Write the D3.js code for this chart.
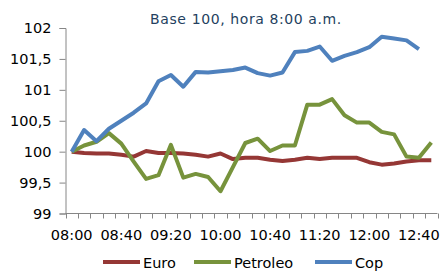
<!DOCTYPE html>
<html>
<head>
<meta charset="utf-8">
<script src="https://cdn.jsdelivr.net/npm/d3@7"></script>
<style>
  body { margin: 0; background: #fff; }
  text { font-family: "DejaVu Sans", sans-serif; }
</style>
</head>
<body>
<script>
// categories, every 10 minutes
var times = ["08:00","08:10","08:20","08:30","08:40","08:50","09:00","09:10","09:20","09:30",
             "09:40","09:50","10:00","10:10","10:20","10:30","10:40","10:50","11:00","11:10",
             "11:20","11:30","11:40","11:50","12:00","12:10","12:20","12:30","12:40","12:50"];
var tickLabels = ["08:00","08:40","09:20","10:00","10:40","11:20","12:00","12:40"];
var yTicks = [99, 99.5, 100, 100.5, 101, 101.5, 102];

var euro = [100, 99.98, 99.97, 99.97, 99.95, 99.92, 100.01, 99.98, 99.98, 99.97,
            99.95, 99.92, 99.97, 99.88, 99.90, 99.90, 99.87, 99.85, 99.87, 99.90,
            99.88, 99.90, 99.90, 99.90, 99.83, 99.79, 99.81, 99.84, 99.86, 99.86];
var petroleo = [100, 100.10, 100.16, 100.30, 100.13, 99.84, 99.56, 99.62, 100.11, 99.58,
                99.64, 99.59, 99.36, 99.75, 100.14, 100.21, 100.01, 100.10, 100.10, 100.76,
                100.76, 100.85, 100.59, 100.47, 100.47, 100.32, 100.28, 99.92, 99.90, 100.15];
var cop = [100, 100.35, 100.17, 100.37, 100.5, 100.63, 100.78, 101.14, 101.24, 101.05,
           101.29, 101.28, 101.30, 101.32, 101.36, 101.27, 101.23, 101.28, 101.61, 101.63,
           101.70, 101.47, 101.55, 101.61, 101.69, 101.86, 101.83, 101.80, 101.66];

var series = [
  {name: "Euro", values: euro, color: "#953735"},
  {name: "Petroleo", values: petroleo, color: "#77933c"},
  {name: "Cop", values: cop, color: "#4f81bd"}
];

var width = 441, height = 273;
var svg = d3.select("body").append("svg").attr("width", width).attr("height", height);

var x = d3.scaleBand().domain(times).range([65.5, 437.5]);
var y = d3.scaleLinear().domain([99, 102]).range([213.5, 28]);

// title
svg.append("text")
    .attr("x", 246).attr("y", 24)
    .attr("text-anchor", "middle")
    .attr("font-size", "14px")
    .attr("letter-spacing", "0.6px")
    .attr("fill", "#243f60")
    .text("Base 100, hora 8:00 a.m.");

// y axis
var yAxis = svg.append("g").attr("transform", "translate(65.5,0)")
    .call(d3.axisLeft(y).tickValues(yTicks).tickSize(6).tickPadding(8)
      .tickFormat(function(d){ return String(d).replace(".", ","); }));
yAxis.select(".domain").attr("stroke", "#868686");
yAxis.selectAll(".tick line").attr("stroke", "#868686");
yAxis.selectAll(".tick text").attr("font-size", "14.5px").attr("fill", "#000")
    .style("font-family", "DejaVu Sans");

// x axis: ticks between categories, labels every 4th
var xg = svg.append("g").attr("transform", "translate(0,213.5)");
xg.append("line").attr("x1", x.range()[0]).attr("x2", x.range()[1])
    .attr("stroke", "#868686");
var bounds = times.map(function(d){ return x(d); }).concat([x.range()[1]]);
xg.selectAll("line.tk").data(bounds).enter().append("line")
    .attr("class", "tk")
    .attr("x1", function(d){ return Math.round(d) + 0.5; })
    .attr("x2", function(d){ return Math.round(d) + 0.5; })
    .attr("y1", 0).attr("y2", 5)
    .attr("stroke", "#868686");
xg.selectAll("text").data(tickLabels).enter().append("text")
    .attr("x", function(d){ return x(d) + x.bandwidth() / 2; })
    .attr("y", 26.5)
    .attr("text-anchor", "middle")
    .attr("font-size", "14.5px")
    .text(function(d){ return d; });

// lines
var line = d3.line()
    .x(function(d, i){ return x(times[i]) + x.bandwidth() / 2; })
    .y(function(d){ return y(d); });

svg.selectAll("path.serie").data(series).enter().append("path")
    .attr("class", "serie")
    .attr("fill", "none")
    .attr("stroke", function(d){ return d.color; })
    .attr("stroke-width", 4)
    .attr("stroke-linejoin", "round")
    .attr("d", function(d){ return line(d.values); });

// legend
var legendX = [103, 194, 315];
var lg = svg.selectAll("g.leg").data(series).enter().append("g")
    .attr("class", "leg")
    .attr("transform", function(d, i){ return "translate(" + legendX[i] + ",262)"; });
lg.append("line").attr("x1", 0).attr("x2", 37)
    .attr("stroke", function(d){ return d.color; })
    .attr("stroke-width", 4);
lg.append("text").attr("x", 40).attr("y", 5.5)
    .attr("font-size", "14.5px")
    .text(function(d){ return d.name; });
</script>
</body>
</html>
